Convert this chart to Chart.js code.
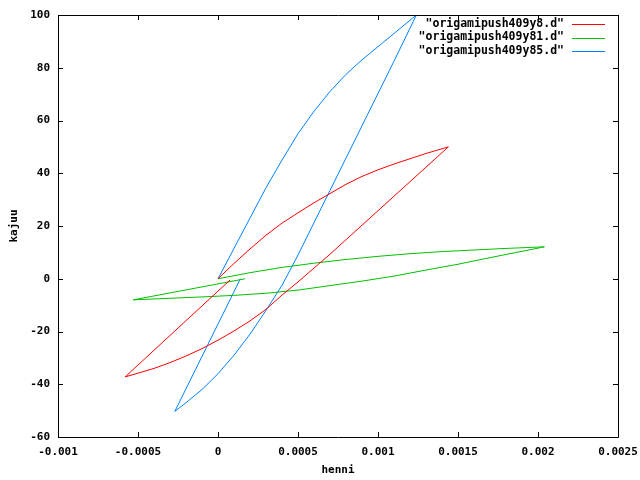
<!DOCTYPE html>
<html>
<head>
<meta charset="utf-8">
<script src="https://cdn.jsdelivr.net/npm/chart.js@4/dist/chart.umd.min.js"></script>
<style>
  html, body { margin: 0; padding: 0; background: #fff; }
  #wrap { width: 640px; height: 480px; }
</style>
</head>
<body>
<div id="wrap"><canvas id="loopChart" width="640" height="480"></canvas></div>
<script>
// Series data (henni vs kajuu)
const seriesNames = ['"origamipush409y8.d"', '"origamipush409y81.d"', '"origamipush409y85.d"'];
const seriesColors = ["#ff0000", "#00c000", "#0080ff"];

const y8X = [0, 0.0001, 0.0002, 0.0003, 0.0004, 0.0005, 0.0006, 0.0007, 0.0008, 0.0009, 0.001, 0.0011, 0.0012, 0.0013, 0.00144,
  0.0013, 0.0011, 0.0009, 0.0007, 0.0005, 0.0004, 0.0003, 0.0002, 0.0001, 0, -0.0001, -0.0002, -0.0003, -0.0004, -0.0005, -0.00058,
  0.000075];
const y8Y = [0, 5.8, 11.3, 16.5, 21.1, 25, 28.8, 32.3, 35.8, 38.8, 41.3, 43.5, 45.5, 47.5, 50,
  42.3, 31.3, 20.3, 9.3, -1.2, -6.2, -11.6, -16, -19.8, -23.3, -26.5, -29.3, -31.8, -34, -35.8, -37.2,
  -0.5];

const y81X = [0, 0.0002, 0.0004, 0.0006, 0.0008, 0.001, 0.0012, 0.0014, 0.0016, 0.0018, 0.00204,
  0.0019, 0.0017, 0.0015, 0.0013, 0.0011, 0.0009, 0.0007, 0.0005, 0.0003, 0.0001, -0.0001, -0.0003, -0.00053,
  0.00017];
const y81Y = [0, 2.3, 4.3, 5.9, 7.3, 8.5, 9.5, 10.3, 10.9, 11.5, 12.1,
  10.4, 8, 5.5, 3.3, 1, -0.9, -2.6, -4.3, -5.5, -6.3, -6.9, -7.4, -8,
  0];

const y85X = [0, 0.0001, 0.0002, 0.0003, 0.0004, 0.0005, 0.0006, 0.0007, 0.0008, 0.0009, 0.001, 0.0011, 0.00124,
  0.0011, 0.0009, 0.0007, 0.0005, 0.0004, 0.0003, 0.0002, 0.0001, 0, -0.0001, -0.0002, -0.00027,
  0.00014];
const y85Y = [0, 11.5, 23, 34.5, 45, 55, 63.5, 71, 77.5, 83, 88, 93, 100,
  82.5, 58, 33.5, 9, -2.5, -12, -21, -29, -36, -42, -47, -50.3,
  0];

// Axis ticks
const xTickValues = [-0.001, -0.0005, 0, 0.0005, 0.001, 0.0015, 0.002, 0.0025];
const xTickLabels = ["-0.001", "-0.0005", "0", "0.0005", "0.001", "0.0015", "0.002", "0.0025"];
const yTickValues = [-60, -40, -20, 0, 20, 40, 60, 80, 100];
const yTickLabels = ["-60", "-40", "-20", "0", "20", "40", "60", "80", "100"];

const FONT_FAMILY = "'DejaVu Sans Mono', 'Liberation Mono', monospace";
const FONT = { family: FONT_FAMILY, size: 11, weight: "bold" };

const toPoints = (xs, ys) => xs.map((x, i) => ({ x: x, y: ys[i] }));

// Frame, inward mirrored tics and gnuplot-like key
const gnuplotFrame = {
  id: "gnuplotFrame",
  afterDraw(chart) {
    const ctx = chart.ctx;
    const area = chart.chartArea;
    const xs = chart.scales.x;
    const ys = chart.scales.y;
    const tic = 5;

    ctx.save();
    ctx.strokeStyle = "#000";
    ctx.lineWidth = 1;
    ctx.beginPath();
    ctx.rect(Math.round(area.left) + 0.5, Math.round(area.top) + 0.5,
      Math.round(area.right - area.left), Math.round(area.bottom - area.top));

    xTickValues.forEach((v) => {
      const px = Math.round(xs.getPixelForValue(v)) + 0.5;
      ctx.moveTo(px, area.bottom);
      ctx.lineTo(px, area.bottom - tic);
      ctx.moveTo(px, area.top);
      ctx.lineTo(px, area.top + tic);
    });
    yTickValues.forEach((v) => {
      const py = Math.round(ys.getPixelForValue(v)) + 0.5;
      ctx.moveTo(area.left, py);
      ctx.lineTo(area.left + tic, py);
      ctx.moveTo(area.right, py);
      ctx.lineTo(area.right - tic, py);
    });
    ctx.stroke();

    // key
    ctx.font = `bold 11.5px ${FONT_FAMILY}`;
    ctx.textAlign = "right";
    ctx.textBaseline = "middle";
    const textRight = 564;
    const lineX0 = 572;
    const lineX1 = 605;
    chart.data.datasets.forEach((ds, i) => {
      const y = 24 + i * 13.5;
      ctx.fillStyle = "#000";
      ctx.fillText(seriesNames[i], textRight, y);
      ctx.strokeStyle = ds.borderColor;
      ctx.beginPath();
      ctx.moveTo(lineX0, Math.round(y) + 0.5);
      ctx.lineTo(lineX1, Math.round(y) + 0.5);
      ctx.stroke();
    });
    ctx.restore();
  },
};

const ctx = document.getElementById("loopChart").getContext("2d");

new Chart(ctx, {
  type: "scatter",
  data: {
    datasets: [
      { label: seriesNames[0], data: toPoints(y8X, y8Y), borderColor: seriesColors[0] },
      { label: seriesNames[1], data: toPoints(y81X, y81Y), borderColor: seriesColors[1] },
      { label: seriesNames[2], data: toPoints(y85X, y85Y), borderColor: seriesColors[2] },
    ],
  },
  options: {
    responsive: false,
    animation: false,
    layout: { padding: { top: 15, right: 22, bottom: 0, left: 0 } },
    datasets: {
      scatter: {
        showLine: true,
        pointRadius: 0,
        borderWidth: 1,
        tension: 0,
        fill: false,
      },
    },
    plugins: {
      legend: { display: false },
      tooltip: { enabled: false },
    },
    scales: {
      x: {
        type: "linear",
        min: -0.001,
        max: 0.0025,
        grid: { display: false, drawTicks: false },
        border: { display: false },
        afterBuildTicks: (scale) => {
          scale.ticks = xTickValues.map((v) => ({ value: v }));
        },
        afterFit: (scale) => {
          scale.height = 43;
          scale.paddingLeft = 0;
          scale.paddingRight = 0;
        },
        ticks: {
          color: "#000",
          font: FONT,
          padding: 9,
          maxRotation: 0,
          autoSkip: false,
          callback: (value, index) => xTickLabels[index],
        },
        title: {
          display: true,
          text: "henni",
          color: "#000",
          font: FONT,
          padding: { top: 0, bottom: 3 },
        },
      },
      y: {
        type: "linear",
        min: -60,
        max: 100,
        grid: { display: false, drawTicks: false },
        border: { display: false },
        afterBuildTicks: (scale) => {
          scale.ticks = yTickValues.map((v) => ({ value: v }));
        },
        afterFit: (scale) => {
          scale.width = 58;
          scale.paddingTop = 0;
          scale.paddingBottom = 0;
        },
        ticks: {
          color: "#000",
          font: FONT,
          padding: 8,
          autoSkip: false,
          callback: (value, index) => yTickLabels[index],
        },
        title: {
          display: true,
          text: "kajuu",
          color: "#000",
          font: FONT,
          padding: { top: 8, bottom: 0 },
        },
      },
    },
  },
  plugins: [gnuplotFrame],
});
</script>
</body>
</html>
